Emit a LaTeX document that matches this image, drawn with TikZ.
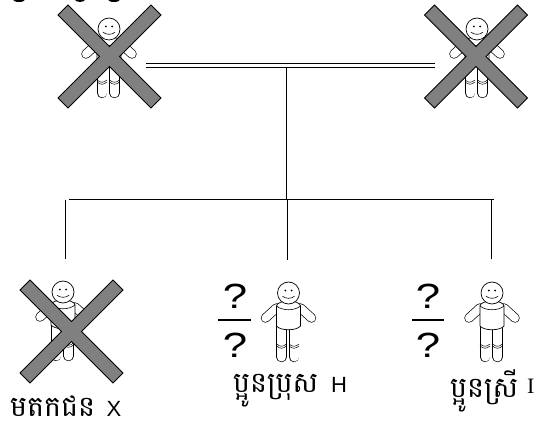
\documentclass[tikz,border=0pt]{standalone}
\usepackage{fontspec}
\setmainfont{Liberation Sans}
\newfontfamily\khmerfont[Script=Khmer]{Battambang}
\begin{document}
\begin{tikzpicture}[x=1pt,y=-1pt,
  figline/.style={draw=black,line width=0.7pt,fill=white},
  limbout/.style={draw=black,line width=9.4pt,line cap=round},
  limbin/.style={draw=white,line width=8pt,line cap=round},
  legout/.style={draw=black,line width=10.4pt,line cap=round},
  legin/.style={draw=white,line width=9pt,line cap=round},
  kinline/.style={draw=black,line width=1pt},
  coupleline/.style={draw=black,line width=1.2pt},
  barline/.style={draw=black,line width=2.4pt},
  crossshape/.style={draw=black,line width=0.8pt,fill=black!50,line join=miter},
  qmark/.style={font=\fontsize{35}{35}\selectfont,inner sep=0pt,xscale=1.25,transform shape},
  klabel/.style={font=\khmerfont\fontsize{28.5}{28.5}\selectfont,inner sep=0pt,anchor=base west},
  latinlabel/.style={font=\fontsize{22}{22}\selectfont,inner sep=0pt,anchor=base west},
  person/.pic={
    \draw[limbout] (-12,15) -- (-23,25);
    \draw[limbin] (-12,15) -- (-23,25);
    \draw[limbout] (12,15) -- (23,25);
    \draw[limbin] (12,15) -- (23,25);
    \draw[legout] (-7,33) -- (-7,64);
    \draw[legin] (-7,33) -- (-7,64);
    \draw[legout] (5.5,33) -- (5.5,64);
    \draw[legin] (5.5,33) -- (5.5,64);
    \draw[line width=0.5pt] (-12,51) .. controls (-8,54) and (-6,54) .. (-2,51) (-12,53) .. controls (-8,56) and (-6,56) .. (-2,53);
    \draw[line width=0.5pt] (0.5,51) .. controls (4,54) and (7,54) .. (10.5,51) (0.5,53) .. controls (4,56) and (7,56) .. (10.5,53);
    \path[figline] (-12,13) .. controls (-12,10) and (-6,8) .. (0,8) .. controls (6,8) and (12,10) .. (12,13) -- (12,33) .. controls (8,38) and (-8,38) .. (-12,33) -- cycle;
    \draw[line width=0.6pt] (-12,13) .. controls (-6,18) and (6,18) .. (12,13);
    \path[figline] (0,0) circle[radius=11];
    \fill (-3.2,-2.5) circle[radius=1];
    \fill (3.2,-2.5) circle[radius=1];
    \draw[line width=0.6pt] (-6,3.2) .. controls (-3,6) and (3,6) .. (6,3.2);
  },
  crossout/.pic={
    \path[crossshape] (-51.5,-41.5) -- (-41.5,-51.5) -- (0,-10) -- (41.5,-51.5) -- (51.5,-41.5) -- (10,0) -- (51.5,41.5) -- (41.5,51.5) -- (0,10) -- (-41.5,51.5) -- (-51.5,41.5) -- (-10,0) -- cycle;
  }]
\useasboundingbox (0,0) rectangle (540,427);
% cropped remnants at the top edge
\begin{scope}
\clip (0,0) rectangle (540,427);
\fill (19,-1) ellipse[x radius=6.5,y radius=3];
\fill (80,-1) ellipse[x radius=5.5,y radius=3];
\fill (114,-1) ellipse[x radius=6.5,y radius=3];
\end{scope}
\pic at (109,29) {person};
\pic at (109.5,56.5) {crossout};
\pic at (477,29) {person};
\pic at (476,56.5) {crossout};
\pic at (63,292) {person};
\pic at (71.5,331.5) {crossout};
\pic at (288.5,293) {person};
\pic at (492,293) {person};
% coordinates
\coordinate (coupleL) at (146,65.7);
\coordinate (coupleR) at (435,65.7);
\coordinate (trunkTop) at (286.5,67);
\coordinate (trunkBot) at (286.5,200);
\coordinate (busL) at (69,200);
\coordinate (busR) at (494,200);
\coordinate (dropLt) at (65,200);
\coordinate (dropLb) at (65,259);
\coordinate (dropMt) at (287.5,200);
\coordinate (dropMb) at (287.5,260);
\coordinate (dropRt) at (491.5,200);
\coordinate (dropRb) at (491.5,259);
\draw[coupleline] ([yshift=2.1pt]coupleL) -- ([yshift=2.1pt]coupleR);
\draw[coupleline] ([yshift=-2.1pt]coupleL) -- ([yshift=-2.1pt]coupleR);
\draw[kinline] (trunkTop) -- (trunkBot);
\draw[kinline] (busL) -- (busR);
\draw[kinline] (dropLt) -- (dropLb);
\draw[kinline] (dropMt) -- (dropMb);
\draw[kinline] (dropRt) -- (dropRb);
% genotype fractions
\node[qmark] (qma) at (235,296) {?};
\node[qmark] (qmb) at (235,345) {?};
\coordinate (barMl) at (218,320); \coordinate (barMr) at (250.5,320);
\draw[barline] (barMl) -- (barMr);
\node[qmark] (qra) at (428,296) {?};
\node[qmark] (qrb) at (428,345) {?};
\coordinate (barRl) at (412,320); \coordinate (barRr) at (444,320);
\draw[barline] (barRl) -- (barRr);
% labels
\node[klabel] (lblX) at (10,416) {មតកជន};
\node[latinlabel] (lblXb) at (106.5,416) {X};
\node[klabel] (lblH) at (233,392) {ប្អូនប្រុស};
\node[latinlabel] (lblHb) at (331,392) {H};
\node[klabel] (lblI) at (450,397) {ប្អូនស្រី};
\node[latinlabel,font=\fontspec{Liberation Serif}\fontsize{22}{22}\selectfont] (lblIb) at (527,393) {I};
\end{tikzpicture}
\end{document}
